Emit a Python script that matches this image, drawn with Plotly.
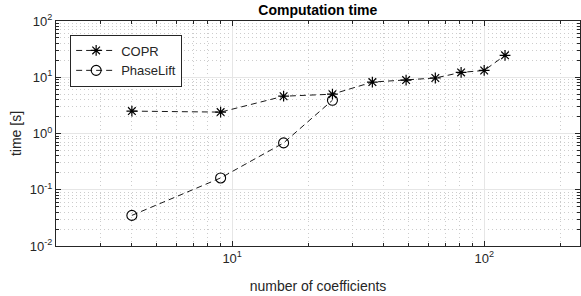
import plotly.graph_objects as go
import math

copr_x = [4, 9, 16, 25, 36, 49, 64, 81, 100, 121]
copr_y = [2.5, 2.4, 4.6, 5.0, 8.2, 8.9, 9.7, 12.2, 13.2, 24.5]
pl_x = [4, 9, 16, 25]
pl_y = [0.035, 0.162, 0.68, 3.9]

x_ticks = [10, 100]
x_ticklabels = ["10<sup>1</sup>", "10<sup>2</sup>"]
y_ticks = [0.01, 0.1, 1, 10, 100]
y_ticklabels = ["10<sup>-2</sup>", "10<sup>-1</sup>", "10<sup>0</sup>", "10<sup>1</sup>", "10<sup>2</sup>"]

FONT = "Liberation Sans, Arial, sans-serif"
AX = "#262626"

fig = go.Figure()
fig.add_trace(go.Scatter(
    x=copr_x, y=copr_y, name="COPR", mode="lines+markers",
    line=dict(color="black", width=0.9, dash="6px,4px"),
    marker=dict(symbol="asterisk-open", size=9, color="black",
                line=dict(color="black", width=1.2)),
))
fig.add_trace(go.Scatter(
    x=pl_x, y=pl_y, name="PhaseLift", mode="lines+markers",
    line=dict(color="black", width=0.9, dash="6px,4px"),
    marker=dict(symbol="circle-open", size=10, color="black",
                line=dict(color="black", width=1.1)),
))

fig.update_layout(
    width=581, height=296,
    margin=dict(l=56, r=1, t=21, b=50, autoexpand=False),
    paper_bgcolor="white", plot_bgcolor="white",
    font=dict(family=FONT, size=13, color=AX),
    title=dict(text="<b>Computation time</b>", x=0.547, xanchor="center",
               y=0.965, yanchor="middle", font=dict(size=14, color="black")),
    showlegend=True,
    legend=dict(x=0.027, y=0.94, xanchor="left", yanchor="top",
                bgcolor="white", bordercolor=AX, borderwidth=1,
                font=dict(size=13, color=AX), tracegroupgap=0,
                itemwidth=40),
)
fig.update_xaxes(
    type="log", range=[math.log10(2), math.log10(240)], automargin=False,
    showline=True, linecolor=AX, linewidth=1, mirror="ticks",
    ticks="inside", ticklen=5, tickcolor=AX,
    tickvals=x_ticks, ticktext=x_ticklabels,
    showgrid=True, gridcolor="#e6e6e6", gridwidth=1,
    minor=dict(tickvals=[2, 3, 4, 5, 6, 7, 8, 9, 20, 30, 40, 50, 60, 70, 80, 90, 200],
               ticks="inside", ticklen=3, tickcolor=AX,
               showgrid=True, gridcolor="#cccccc", griddash="1px,3px", gridwidth=1),
    title=dict(text="number of coefficients", font=dict(size=14, color=AX), standoff=16),
    zeroline=False,
)
ymin = [m * 10**e for e in range(-2, 2) for m in range(2, 10)]
fig.update_yaxes(
    type="log", range=[-2, 2], automargin=False,
    showline=True, linecolor=AX, linewidth=1, mirror="ticks",
    ticks="inside", ticklen=5, tickcolor=AX,
    tickvals=y_ticks, ticktext=y_ticklabels,
    showgrid=True, gridcolor="#e6e6e6", gridwidth=1,
    minor=dict(tickvals=ymin, ticks="inside", ticklen=3, tickcolor=AX,
               showgrid=True, gridcolor="#cccccc", griddash="1px,3px", gridwidth=1),
    title=dict(text="time [s]", font=dict(size=14, color=AX), standoff=4),
    zeroline=False,
)

fig.write_html("out.html", config={"displayModeBar": False},
               post_script="document.body.style.margin='0';")
